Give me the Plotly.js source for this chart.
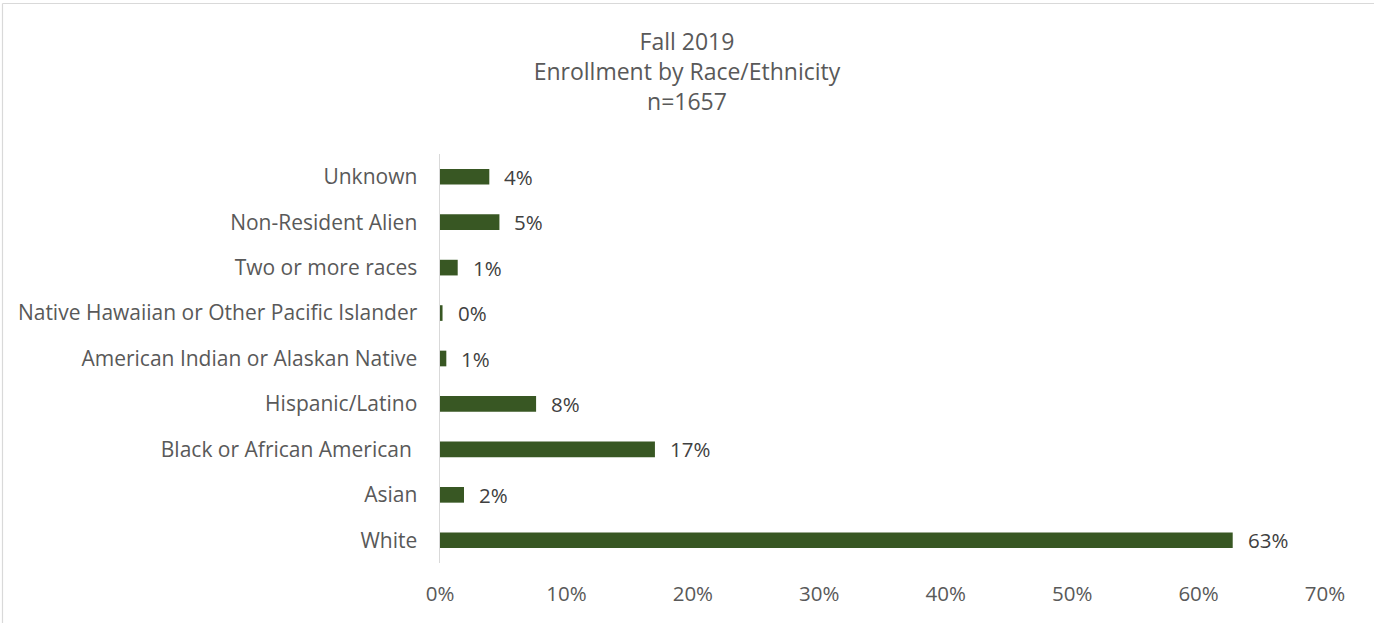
<!DOCTYPE html>
<html>
<head>
<meta charset="utf-8">
<script src="https://cdn.plot.ly/plotly-3.0.1.min.js"></script>
<style>
  html, body { margin: 0; padding: 0; background: #ffffff; }
  #chart { width: 1374px; height: 623px; }
</style>
</head>
<body>
<div id="chart"></div>
<script>
// ---- data ----
var categories = [
  "White",
  "Asian",
  "Black or African American\u00a0",
  "Hispanic/Latino",
  "American Indian or Alaskan Native",
  "Native Hawaiian or Other Pacific Islander",
  "Two or more races",
  "Non-Resident Alien",
  "Unknown"
];
var percentValues = [62.7, 1.9, 17.0, 7.6, 0.5, 0.2, 1.4, 4.7, 3.9];
var xTickVals = [0, 10, 20, 30, 40, 50, 60, 70];
var xTickText = ["0%", "10%", "20%", "30%", "40%", "50%", "60%", "70%"];
var titleLines = ["Fall 2019", "Enrollment by Race/Ethnicity", "n=1657"];

// ---- styles ----
var W = 1374, H = 623;
var M = { l: 440, r: 49, t: 154, b: 60 };
var fontFam = "Open Sans, DejaVu Sans, sans-serif";
var barColor = "#385723";

var labels = percentValues.map(function (v) { return Math.round(v) + "%"; });

var annotations = categories.map(function (c, i) {
  return {
    x: percentValues[i], y: c, xref: "x", yref: "y",
    text: labels[i], showarrow: false,
    xanchor: "left", yanchor: "middle", xshift: 13,
    font: { family: fontFam, size: 20.5, color: "#404040" }
  };
});

// chart-area border (top and left edges) in paper coords
var pw = W - M.l - M.r, ph = H - M.t - M.b;
function px2paperX(px) { return (px - M.l) / pw; }
function px2paperY(py) { return (H - M.b - py) / ph; }
var shapes = [
  { type: "line", xref: "paper", yref: "paper",
    x0: px2paperX(2.5), x1: px2paperX(W + 5), y0: px2paperY(3.5), y1: px2paperY(3.5),
    line: { color: "#d9d9d9", width: 1.2 } },
  { type: "line", xref: "paper", yref: "paper",
    x0: px2paperX(2.5), x1: px2paperX(2.5), y0: px2paperY(3.5), y1: px2paperY(H + 5),
    line: { color: "#d9d9d9", width: 1.2 } }
];

var trace = {
  type: "bar",
  orientation: "h",
  x: percentValues,
  y: categories,
  marker: { color: barColor, line: { width: 0 } },
  hoverinfo: "x+y"
};

var layout = {
  width: W, height: H,
  margin: M,
  paper_bgcolor: "#ffffff",
  plot_bgcolor: "#ffffff",
  showlegend: false,
  bargap: 0.655,
  title: {
    text: titleLines.join("<br>"),
    font: { family: fontFam, size: 23, color: "#595959" },
    x: 0.5, xref: "container", xanchor: "center",
    y: 1 - 50 / H, yref: "container", yanchor: "top"
  },
  xaxis: {
    range: [0, 70],
    tickmode: "array",
    tickvals: xTickVals,
    ticktext: xTickText,
    showgrid: false, zeroline: false, showline: false,
    ticks: "outside", ticklen: 12, tickcolor: "rgba(0,0,0,0)",
    tickfont: { family: fontFam, size: 20.5, color: "#595959" },
    fixedrange: true
  },
  yaxis: {
    type: "category",
    categoryorder: "array",
    categoryarray: categories,
    range: [-0.5, categories.length - 0.5],
    showgrid: false, zeroline: false,
    showline: true, linecolor: "#d9d9d9", linewidth: 1.5,
    ticks: "outside", ticklen: 17, tickcolor: "rgba(0,0,0,0)",
    tickfont: { family: fontFam, size: 21, color: "#595959" },
    fixedrange: true
  },
  annotations: annotations,
  shapes: shapes
};

Plotly.newPlot("chart", [trace], layout, { displayModeBar: false, staticPlot: true });
</script>
</body>
</html>
